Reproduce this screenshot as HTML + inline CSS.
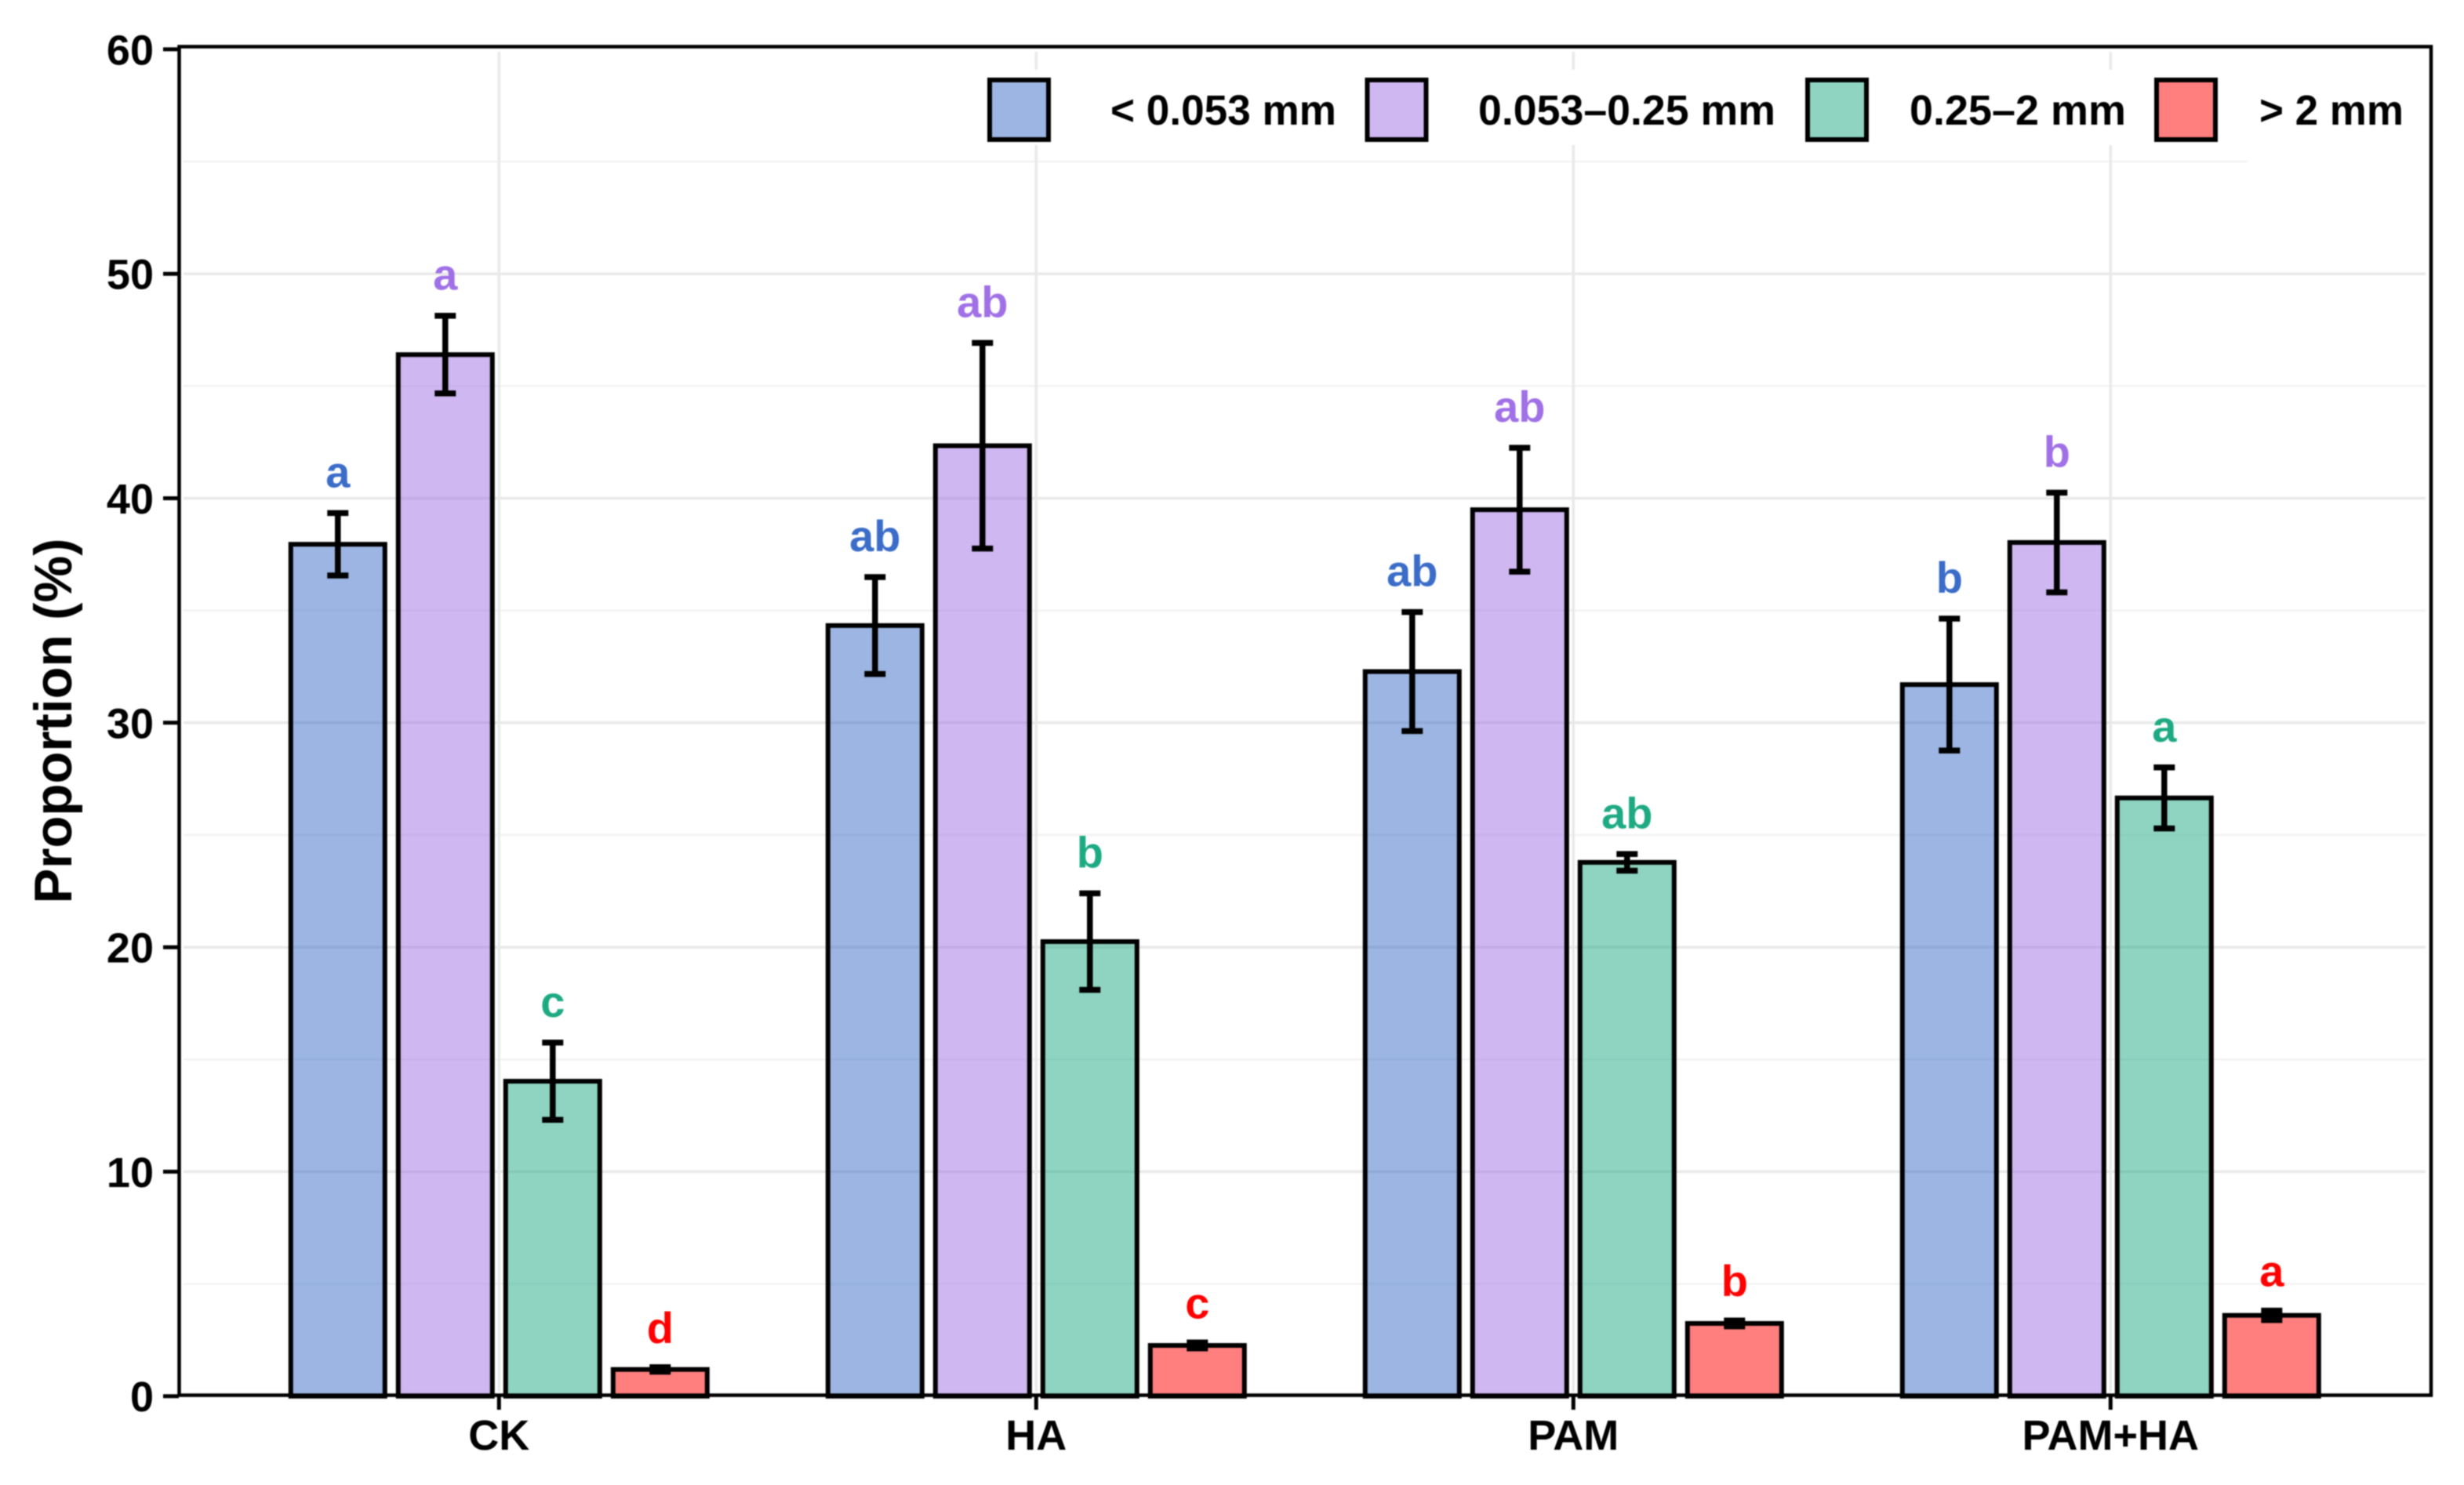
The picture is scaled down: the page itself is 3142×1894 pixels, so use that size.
<!DOCTYPE html>
<html lang="en">
<head>
<meta charset="utf-8">
<title>Proportion of aggregate size classes</title>
<style>
html,body{margin:0;padding:0;background:#fff;}
svg{display:block;filter:blur(0.7px);}
text{font-family:"Liberation Sans",Arial,sans-serif;font-weight:700;}
</style>
</head>
<body>
<svg id="chart" xmlns="http://www.w3.org/2000/svg" width="3142" height="1894" viewBox="0 0 3142 1894">
  <rect x="0" y="0" width="3142" height="1894" fill="#ffffff"/>
  <g id="grid"></g>
  <rect x="1200" y="89" width="1892" height="96" fill="#ffffff"/>
  <g id="bars"></g>
  <g id="errors"></g>
  <g id="letters"></g>
  <g id="axes"></g>
  <rect x="228.5" y="59.5" width="2871.5" height="1720" fill="none" stroke="#000000" stroke-width="4.5"/>
  <text x="91" y="919.5" font-size="68" text-anchor="middle" textLength="466" lengthAdjust="spacingAndGlyphs" transform="rotate(-90 91 919.5)" fill="#000000">Proportion (%)</text>
  <g>
    <g>
      <rect x="1262" y="102" width="75" height="76" fill="#3A6CC8" fill-opacity="0.5" stroke="#000" stroke-width="6"/>
      <text x="1416" y="159" font-size="54" textLength="288" lengthAdjust="spacingAndGlyphs" fill="#000">&lt; 0.053 mm</text>
    </g>
    <g>
      <rect x="1743.5" y="102" width="75" height="76" fill="#A070E6" fill-opacity="0.5" stroke="#000" stroke-width="6"/>
      <text x="1885" y="159" font-size="54" textLength="379" lengthAdjust="spacingAndGlyphs" fill="#000">0.053–0.25 mm</text>
    </g>
    <g>
      <rect x="2305" y="102" width="75" height="76" fill="#1DAA83" fill-opacity="0.5" stroke="#000" stroke-width="6"/>
      <text x="2435" y="159" font-size="54" textLength="276" lengthAdjust="spacingAndGlyphs" fill="#000">0.25–2 mm</text>
    </g>
    <g>
      <rect x="2750" y="102" width="75" height="76" fill="#FF0000" fill-opacity="0.5" stroke="#000" stroke-width="6"/>
      <text x="2881" y="159" font-size="54" textLength="184" lengthAdjust="spacingAndGlyphs" fill="#000">&gt; 2 mm</text>
    </g>
  </g>
</svg>
<script>
var categories = ["CK", "HA", "PAM", "PAM+HA"];
var seriesNames = ["lt-0-053", "0-053-0-25", "0-25-2", "gt-2"];
var seriesColors = ["#3A6CC8", "#A070E6", "#1DAA83", "#FF0000"];

var meanFine = [37.95, 34.33, 32.28, 31.70];
var meanMicro = [46.40, 42.34, 39.49, 38.03];
var meanSmall = [14.03, 20.25, 23.78, 26.65];
var meanLarge = [1.19, 2.26, 3.24, 3.60];

var errFine = [1.39, 2.16, 2.65, 2.94];
var errMicro = [1.73, 4.58, 2.76, 2.22];
var errSmall = [1.72, 2.15, 0.37, 1.36];
var errLarge = [0.10, 0.13, 0.13, 0.21];

var lettersFine = ["a", "ab", "ab", "b"];
var lettersMicro = ["a", "ab", "ab", "b"];
var lettersSmall = ["c", "b", "ab", "a"];
var lettersLarge = ["d", "c", "b", "a"];

var yTicks = [0, 10, 20, 30, 40, 50, 60];
var yMinorTicks = [5, 15, 25, 35, 45, 55];

var means = [meanFine, meanMicro, meanSmall, meanLarge];
var errs = [errFine, errMicro, errSmall, errLarge];
var letters = [lettersFine, lettersMicro, lettersSmall, lettersLarge];

var SVG_NS = "http://www.w3.org/2000/svg";

function yScale(v) { return 1780.7 - 28.63 * v; }
function groupX(i) { return 636.3 + 685 * i; }
function barX(g, s) { return groupX(g) + (s - 1.5) * 137; }
var BAR_WIDTH = 120;
var CAP_WIDTH = 27;
var PANEL_LEFT = 234;
var PANEL_RIGHT = 3093;

function make(tag, parent) {
  var el = document.createElementNS(SVG_NS, tag);
  parent.appendChild(el);
  return el;
}
function setLine(el, x1, y1, x2, y2, color, width) {
  el.setAttribute("x1", x1);
  el.setAttribute("y1", y1);
  el.setAttribute("x2", x2);
  el.setAttribute("y2", y2);
  el.setAttribute("stroke", color);
  el.setAttribute("stroke-width", width);
}

var gridG = document.getElementById("grid");
var barsG = document.getElementById("bars");
var errorsG = document.getElementById("errors");
var lettersG = document.getElementById("letters");
var axesG = document.getElementById("axes");

yMinorTicks.forEach(function (t) {
  var el = make("line", gridG);
  
  
  var end = t === 55 ? 2866 : PANEL_RIGHT;
  setLine(el, PANEL_LEFT, yScale(t), end, yScale(t), "#f3f3f3", 2.5);
});

yTicks.forEach(function (t) {
  if (t === 0 || t === 60) return;
  var el = make("line", gridG);
  
  
  setLine(el, PANEL_LEFT, yScale(t), PANEL_RIGHT, yScale(t), "#e9e9e9", 3.5);
});

categories.forEach(function (c, g) {
  var el = make("line", gridG);
  
  
  setLine(el, groupX(g), 66, groupX(g), 1775, "#e9e9e9", 3.5);
});

means.forEach(function (series, s) {
  series.forEach(function (value, g) {
    var cx = barX(g, s);
    var top = yScale(value);
    var base = yScale(0);

    var bar = make("rect", barsG);
    
    
    bar.setAttribute("x", cx - BAR_WIDTH / 2);
    bar.setAttribute("y", top);
    bar.setAttribute("width", BAR_WIDTH);
    bar.setAttribute("height", base - top);
    bar.setAttribute("fill", seriesColors[s]);
    bar.setAttribute("fill-opacity", "0.5");
    bar.setAttribute("stroke", "#000");
    bar.setAttribute("stroke-width", "6");

    var hi = yScale(value + errs[s][g]);
    var lo = yScale(value - errs[s][g]);

    var stem = make("line", errorsG);
    
    
    setLine(stem, cx, hi, cx, lo, "#000", 7.5);

    var capTop = make("line", errorsG);
    
    
    setLine(capTop, cx - CAP_WIDTH / 2, hi, cx + CAP_WIDTH / 2, hi, "#000", 7.5);

    var capBottom = make("line", errorsG);
    
    
    setLine(capBottom, cx - CAP_WIDTH / 2, lo, cx + CAP_WIDTH / 2, lo, "#000", 7.5);

    var label = make("text", lettersG);
    
    
    label.setAttribute("x", cx);
    label.setAttribute("y", hi - (s === 3 ? 31 : 33));
    label.setAttribute("font-size", "56");
    label.setAttribute("text-anchor", "middle");
    label.setAttribute("fill", seriesColors[s]);
    label.textContent = letters[s][g];
  });
});

yTicks.forEach(function (t) {
  var tick = make("line", axesG);
  
  
  setLine(tick, 208, yScale(t), 228, yScale(t), "#000", 5);

  var label = make("text", axesG);
  
  
  label.setAttribute("x", 196);
  label.setAttribute("y", yScale(t) + 19.5);
  label.setAttribute("font-size", "54");
  label.setAttribute("text-anchor", "end");
  label.setAttribute("fill", "#000");
  label.textContent = String(t);
});

categories.forEach(function (c, g) {
  var tick = make("line", axesG);
  
  
  setLine(tick, groupX(g), 1780, groupX(g), 1798, "#000", 5);

  var label = make("text", axesG);
  
  
  label.setAttribute("x", groupX(g));
  label.setAttribute("y", 1849);
  label.setAttribute("font-size", "54");
  label.setAttribute("text-anchor", "middle");
  label.setAttribute("fill", "#000");
  label.textContent = c;
});
</script>
</body>
</html>
